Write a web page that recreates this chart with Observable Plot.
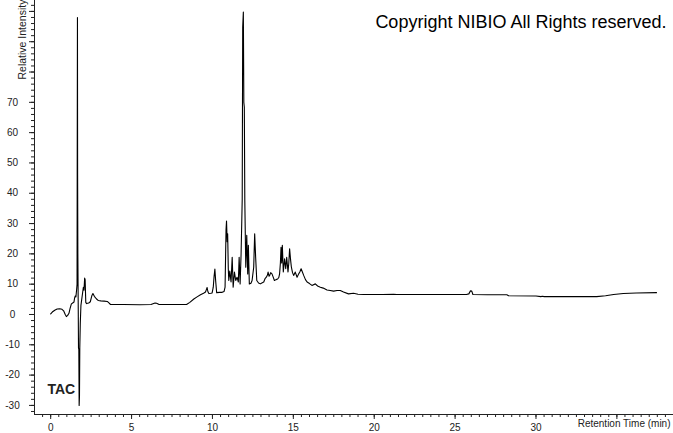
<!DOCTYPE html>
<html>
<head>
<meta charset="utf-8">
<script src="https://cdn.jsdelivr.net/npm/d3@7"></script>
<script src="https://cdn.jsdelivr.net/npm/@observablehq/plot@0.6"></script>
<style>
  html, body { margin: 0; padding: 0; background: #fff; }
</style>
</head>
<body>
<div id="chart"></div>
<script>
// Retention time (min)
const time = [
  0.00, 0.10, 0.25, 0.40, 0.56, 0.70, 0.80, 0.90, 0.97, 1.05,
  1.13, 1.20, 1.28, 1.36, 1.44, 1.48, 1.52, 1.56, 1.60, 1.63,
  1.64, 1.655, 1.665, 1.68, 1.70, 1.72, 1.74, 1.76, 1.78, 1.80,
  1.83, 1.87, 1.92, 1.97, 2.02, 2.06, 2.10, 2.13, 2.17, 2.22,
  2.35, 2.45, 2.55, 2.61, 2.70, 2.82, 2.95, 3.10, 3.30, 3.50,
  3.60, 3.70, 4.50, 5.50, 6.20, 6.45, 6.55, 6.70, 7.50, 8.40,
  8.60, 8.85, 9.05, 9.26, 9.45, 9.57, 9.63, 9.67, 9.72, 9.78,
  9.90, 9.98, 10.05, 10.10, 10.15, 10.20, 10.26, 10.45, 10.60, 10.72,
  10.78, 10.84, 10.87, 10.91, 10.94, 10.98, 11.01, 11.07, 11.15, 11.22,
  11.28, 11.36, 11.44, 11.52, 11.60, 11.65, 11.71, 11.77, 11.81, 11.84,
  11.87, 11.91, 11.94, 11.97, 12.00, 12.06, 12.12, 12.18, 12.22, 12.28,
  12.38, 12.45, 12.55, 12.61, 12.67, 12.74, 12.85, 12.96, 13.08, 13.17,
  13.25, 13.33, 13.40, 13.44, 13.50, 13.54, 13.60, 13.68, 13.75, 13.83,
  13.93, 14.03, 14.10, 14.15, 14.20, 14.24, 14.28, 14.32, 14.38, 14.46,
  14.53, 14.59, 14.67, 14.72, 14.77, 14.83, 14.88, 14.95, 15.02, 15.12,
  15.23, 15.33, 15.40, 15.48, 15.56, 15.64, 15.75, 15.85, 16.00, 16.15,
  16.36, 16.50, 16.67, 16.85, 17.08, 17.28, 17.49, 17.70, 17.90, 18.10,
  18.41, 18.72, 19.00, 19.34, 20.50, 21.20, 21.40, 23.00, 24.50, 25.70,
  25.85, 25.95, 26.03, 26.10, 27.00, 28.20, 28.30, 30.00, 30.30, 30.40,
  30.50, 32.00, 33.75, 34.30, 34.80, 35.40, 36.20, 37.45
];
// Relative intensity
const intensity = [
  0.2, 0.8, 1.4, 1.8, 1.9, 1.7, 1.2, 0.0, -0.7, -0.3,
  0.4, 2.0, 3.5, 3.8, 4.1, 5.5, 6.1, 5.8, 8.0, 10.0,
  46.0, 98.0, 46.0, 20.0, 5.0, -11.0, -11.5, -30.0, -27.0, -11.0,
  -3.0, 3.0, 5.0, 7.0, 9.0, 8.0, 12.0, 11.5, 4.0, 3.6,
  3.8, 4.2, 6.3, 6.9, 6.0, 5.2, 4.6, 4.5, 4.4, 4.3,
  3.8, 3.3, 3.3, 3.2, 3.3, 3.8, 3.7, 3.3, 3.3, 3.3,
  4.0, 5.1, 5.8, 6.5, 7.0, 7.4, 8.3, 8.9, 7.5, 6.9,
  7.0, 7.1, 9.0, 12.5, 15.0, 11.0, 7.2, 7.3, 7.3, 7.6,
  9.0, 28.0, 30.8, 24.0, 26.6, 15.0, 11.2, 14.3, 10.7, 18.9,
  9.0, 14.0, 11.2, 12.3, 10.7, 18.9, 10.1, 19.9, 30.0, 38.0,
  94.8, 99.8, 70.0, 68.4, 37.6, 15.6, 26.1, 13.4, 22.8, 10.1,
  10.3, 11.2, 15.6, 26.6, 18.9, 11.2, 10.4, 10.1, 10.5, 10.7,
  11.8, 12.3, 13.0, 14.0, 12.6, 12.9, 13.8, 13.4, 12.4, 11.2,
  11.5, 11.7, 12.2, 13.4, 17.0, 22.2, 17.0, 22.8, 14.0, 18.4,
  15.1, 18.9, 14.0, 17.0, 21.7, 18.0, 15.6, 13.8, 12.9, 14.0,
  12.3, 13.4, 14.0, 15.1, 14.0, 12.9, 11.5, 10.7, 10.2, 9.6,
  10.1, 9.4, 9.0, 8.7, 8.1, 7.9, 7.7, 7.9, 7.9, 7.4,
  6.8, 7.0, 6.7, 6.6, 6.6, 6.7, 6.6, 6.6, 6.6, 6.6,
  6.8, 7.8, 7.7, 6.6, 6.5, 6.5, 6.2, 6.1, 5.9, 6.0,
  5.9, 5.9, 5.9, 6.2, 6.6, 6.9, 7.1, 7.2
];
// Tick labels
const xTickLabels = [0, 5, 10, 15, 20, 25, 30];
const yTickLabels = [-30, -20, -10, 0, 10, 20, 30, 40, 50, 60, 70];
const yMajorUnlabeled = [80, 90, 100];
const xMajorUnlabeled = [35];
const xMinorTicks = d3.range(-0.5, 38.51, 0.5);
const yMinorTicks = d3.range(-32, 103, 2);

const xDomain = [-1, 38.5];
const yDomain = [-33, 103.6];

const data = time.map((t, i) => ({t, v: intensity[i]}));

const chart = Plot.plot({
  width: 673,
  height: 433,
  marginLeft: 34,
  marginRight: 0,
  marginTop: 0,
  marginBottom: 19,
  x: {domain: xDomain},
  y: {domain: yDomain},
  style: {fontFamily: "'Liberation Sans', Arial, sans-serif", color: "#222", background: "#fff", overflow: "visible"},
  marks: [
    Plot.ruleY([yDomain[0]], {stroke: "#222"}),
    Plot.ruleX([xDomain[0]], {stroke: "#222"}),
    Plot.axisX({ticks: xMinorTicks, tickSize: 3, text: null, label: null, stroke: "#222"}),
    Plot.axisX({ticks: xMajorUnlabeled, tickSize: 5, text: null, label: null, stroke: "#222"}),
    Plot.axisX({ticks: xTickLabels, tickSize: 5, tickPadding: 4, fontSize: 10, label: null, stroke: "#222"}),
    Plot.axisY({ticks: yMinorTicks, tickSize: 3, text: null, label: null, stroke: "#222"}),
    Plot.axisY({ticks: yMajorUnlabeled, tickSize: 5, text: null, label: null, stroke: "#222"}),
    Plot.axisY({ticks: yTickLabels, tickSize: 5, text: null, label: null, stroke: "#222"}),
    Plot.text(yTickLabels, {y: d => d, text: d => String(d), frameAnchor: "left", dx: -22, textAnchor: "middle", fontSize: 10, fill: "#222"}),
    Plot.line(data, {x: "t", y: "v", stroke: "#000", strokeWidth: 1.1}),
    Plot.text(["Relative Intensity"], {frameAnchor: "top-left", dx: -16, dy: 79, rotate: -90, textAnchor: "start", fontSize: 10.5, fill: "#222"}),
    Plot.text(["Retention Time (min)"], {frameAnchor: "bottom-right", dx: -3, dy: 12.7, textAnchor: "end", fontSize: 10, fill: "#222"}),
    Plot.text(["Copyright NIBIO All Rights reserved."], {frameAnchor: "top-right", dx: -7, dy: 15, textAnchor: "end", fontSize: 18, fill: "#000"}),
    Plot.text(["TAC"], {frameAnchor: "bottom-left", dx: 13, dy: -21, textAnchor: "start", fontSize: 14, fontWeight: "bold", fill: "#222"})
  ]
});
document.getElementById("chart").appendChild(chart);
</script>
</body>
</html>
